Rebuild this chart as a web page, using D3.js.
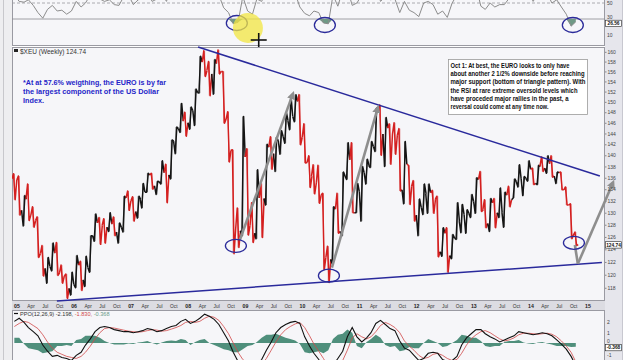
<!DOCTYPE html>
<html><head><meta charset="utf-8">
<script src="https://cdn.jsdelivr.net/npm/d3@7"></script>
<style>body{margin:0;background:#fff;} svg{display:block;font-family:"Liberation Sans",Arial,sans-serif;}</style>
</head><body><svg id="c" width="640" height="360"></svg>
<script>
// ---- DATA (monthly, Dec 2004 .. Oct 2014) ----
const startMonth = "2004-12";
const highs = [136.7,
 136.3,132.9,134.9,131.0,129.3,124.6,122.7,125.0,125.1,121.5,120.1,120.4,
 123.0,122.1,122.9,126.2,129.8,129.2,129.0,130.0,129.3,128.3,132.8,133.7,
 132.7,132.8,135.0,136.8,136.8,135.4,139.0,138.4,142.8,145.2,149.7,148.0,
 149.0,152.5,159.1,160.2,158.0,158.4,160.4,156.0,148.1,141.0,130.8,147.2,
 141.2,131.7,137.4,135.0,142.0,143.4,143.3,144.5,147.9,150.8,151.4,151.4,
 145.8,139.9,138.3,138.2,133.3,124.5,131.0,133.3,137.0,142.3,142.3,135.0,
 138.0,139.3,142.5,148.8,149.4,147.0,145.8,146.0,144.9,142.5,138.2,135.5,
 132.3,134.9,134.9,133.8,132.8,127.5,127.5,126.4,131.7,131.4,130.5,133.1,
 136.0,137.1,132.2,132.4,132.4,134.2,133.5,134.5,135.8,138.3,136.2,139.0,
 137.7,138.2,139.7,139.9,139.9,137.0,137.0,134.4,131.5,126.8];
const lows = [132.2,
 129.6,127.8,128.7,127.6,122.7,119.8,118.7,120.6,119.9,118.7,116.4,116.9,
 118.0,117.6,118.2,120.4,125.3,124.8,125.0,126.9,126.2,125.0,126.8,130.4,
 128.6,129.1,130.8,133.5,134.0,133.1,134.9,131.7,135.8,140.3,144.2,143.5,
 144.8,145.5,151.7,155.0,151.2,151.5,155.5,145.9,138.8,123.3,124.3,126.2,
 126.3,125.1,125.7,125.9,131.3,137.5,137.1,140.2,142.2,144.7,146.2,141.9,
 138.6,134.3,133.2,131.6,120.8,118.8,121.7,126.6,126.2,135.7,130.0,130.0,
 128.6,134.9,137.8,140.7,140.0,138.0,138.4,140.2,133.7,131.5,131.4,128.6,
 126.2,129.7,129.9,129.9,122.8,122.9,120.4,122.5,125.6,126.7,126.6,129.2,
 129.9,130.2,127.5,126.9,127.5,129.2,127.6,131.0,132.5,134.4,132.9,135.4,
 134.8,134.8,137.1,136.8,136.1,135.0,133.9,131.3,125.7,124.6];
const closes = [135.6,
 130.4,132.3,129.6,128.7,123.3,121.0,121.3,123.4,120.3,119.8,117.9,118.5,
 121.5,119.2,121.1,126.2,128.3,127.9,127.6,128.1,126.8,127.6,132.5,132.0,
 130.2,132.3,133.5,136.5,134.6,135.3,136.9,136.5,142.6,144.9,146.3,146.0,
 148.3,151.8,157.9,156.2,155.5,157.6,156.0,146.7,140.9,127.3,127.0,139.7,
 127.9,126.6,132.5,132.4,141.5,140.3,142.6,143.4,146.4,147.2,150.1,143.3,
 138.7,136.3,135.1,133.0,122.7,122.4,130.6,126.9,136.3,139.2,130.0,133.6,
 136.9,138.2,141.6,148.1,143.9,145.0,143.9,143.7,133.9,138.4,134.5,129.6,
 130.9,133.2,133.4,132.3,123.6,126.6,123.0,125.8,128.6,129.7,129.9,131.9,
 135.7,130.5,128.2,131.7,130.0,130.1,133.0,132.2,135.3,135.8,135.9,137.5,
 135.0,138.0,137.7,138.5,136.3,136.9,133.9,131.3,126.3,124.74];
const rsiValues = [60,
 52,51,54,47,38,31,42,47,40,41,36,40,
 52,45,50,60,65,55,52,54,48,47,58,60,
 48,54,56,64,52,55,62,52,70,72,70,60,
 62,66,75,70,60,62,60,44,38,24,26,58,
 40,36,55,52,66,58,62,60,66,64,62,45,
 37,34,40,38,25,24,60,46,66,68,47,50,
 60,58,66,74,52,58,54,55,38,52,41,38,
 33,50,52,48,36,40,32,50,60,56,55,60,
 70,46,42,50,45,48,48,56,64,66,60,66,
 52,62,62,62,50,54,45,36,21,26.56];
const ppoValues = [2.1,
 2.4,2.0,1.5,1.1,0.7,-0.2,-0.8,-1.3,-1.2,-1.4,-1.5,-1.7,
 -1.2,-0.9,-0.2,0.4,1.1,1.5,1.6,1.5,1.3,1.2,1.1,1.1,
 1.0,1.1,1.2,1.4,1.3,1.1,1.2,1.4,1.6,1.7,2.1,2.3,
 1.9,2.1,2.4,2.8,2.6,2.3,1.8,1.0,0.2,-0.9,-1.8,-2.2,
 -2.3,-2.4,-2.2,-1.6,-0.7,0.1,1.0,1.5,1.8,2.0,2.1,1.9,
 0.6,-0.3,-1.0,-1.6,-2.5,-3.0,-2.2,-1.5,-0.8,0.6,1.5,0.6,
 0.1,0.5,1.0,1.9,2.2,1.8,1.4,1.2,0.2,-0.5,-0.7,-1.2,
 -1.7,-1.5,-1.0,-0.9,-1.0,-1.6,-1.8,-1.7,-1.3,-0.2,0.5,0.9,
 1.3,1.3,0.9,0.6,0.4,0.1,0.3,0.5,0.7,1.1,1.0,0.9,
 0.8,0.9,1.0,0.9,0.7,0.3,-0.1,-0.6,-1.3,-2.198];
const signalValues = [1.6,
 1.9,2.1,2.0,1.7,1.4,0.8,0.1,-0.5,-0.9,-1.1,-1.3,-1.4,
 -1.5,-1.3,-0.9,-0.3,0.4,1.0,1.4,1.5,1.45,1.35,1.25,1.15,
 1.1,1.05,1.1,1.2,1.3,1.25,1.15,1.2,1.35,1.5,1.7,2.0,
 2.1,2.0,2.1,2.4,2.6,2.5,2.2,1.6,0.9,0.0,-0.9,-1.6,
 -2.0,-2.2,-2.3,-2.1,-1.5,-0.7,0.1,0.8,1.3,1.6,1.85,2.0,
 1.5,0.7,-0.1,-0.8,-1.5,-2.3,-2.6,-2.3,-1.7,-0.7,0.5,0.9,
 0.6,0.4,0.6,1.1,1.7,2.0,1.8,1.5,1.0,0.2,-0.3,-0.7,
 -1.2,-1.5,-1.4,-1.1,-1.0,-1.2,-1.5,-1.7,-1.6,-1.0,-0.2,0.4,
 0.8,1.1,1.2,1.0,0.7,0.4,0.2,0.3,0.5,0.8,0.95,0.95,
 0.9,0.85,0.9,0.95,0.85,0.6,0.2,-0.3,-0.9,-1.830];
const priceTickLabels = [118,120,122,124,126,128,130,132,134,136,138,140,142,144,146,148,150,152,154,156,158,160];
const rsiTickLabels = [50,30,10];
const ppoTickLabels = [2,1,0,-1];
const yearLabels = ["05","06","07","08","09","10","11","12","13","14","15"];
const quarterLabels = ["Apr","Jul","Oct"];
const title = "$XEU (Weekly) 124.74";
const lastPrice = "124.74", lastRsi = "26.56", lastHist = "-0.368";
const ppoTitle = ["PPO(12,26,9) -2.198,", "-1.830,", "-0.368"];
const noteLeft = ["*At at 57.6% weigthing, the EURO is by far","the largest component of the US Dollar","Index."];
const noteRight = ["Oct 1: At best, the EURO looks to only have","about another 2 1/2% downside before reaching","major support (bottom of triangle pattern). With","the RSI at rare extreme oversold levels which","have proceded major rallies in the past, a","reversal could come at any time now."];
// annotation anchors in data space [date, value]
const upperTrend = [["2008-03-04",161.0],["2015-03-18",136.3]];
const lowerTrend = [["2005-09-13",116.0],["2015-03-31",121.9]];
const arrows = [
  [["2008-11-26",125.5],["2009-10-31",151.5]],
  [["2010-07-08",121.1],["2011-04-27",148.8]],
  [["2014-10-28",121.7],["2015-06-09",135.1]]];
const vLeg = [["2014-10-09",124.7],["2014-10-28",121.7]];
const priceCircles = [["2008-11-01",124.56],["2010-06-19",119.85],["2014-10-03",125.05]];
const rsiCircles = [["2008-11-07",25],["2010-05-24",22.5],["2014-09-26",22.5]];
const highlight = ["2009-01-17",18.75];
const cursorAt = ["2009-03-27",3.75];

// ---- CHART ----
const svg = d3.select('#c');
const L = 12, R = 605, AX = 622;
const pd = d3.timeParse("%Y-%m-%d");
const x = d3.scaleTime().domain([new Date(2005,0,1), new Date(2015,0,1)]).range([17,588]);
const yP = d3.scaleLog().domain([116.0,161.0]).range([301,47]);
const yR = d3.scaleLinear().domain([10,50]).range([35,3]);
const yM = d3.scaleLinear().domain([-1,2]).range([353.3,322.4]);

const months = d3.timeMonth.range(d3.timeParse("%Y-%m")(startMonth), new Date(2014,10,1));
const xs = months.map(m=> x(d3.timeDay.offset(m,14)));
const step = xs[1]-xs[0];

svg.append('rect').attr('width',640).attr('height',360).attr('fill','#ffffff');
svg.append('rect').attr('x',0).attr('y',0).attr('width',L).attr('height',360).attr('fill','#eeeef0');
svg.append('line').attr('x1',3.5).attr('x2',3.5).attr('y1',0).attr('y2',360).attr('stroke','#c8c8cc');
svg.append('rect').attr('x',R).attr('y',0).attr('width',AX-R).attr('height',360).attr('fill','#e6e6ec');
svg.append('line').attr('x1',AX+0.5).attr('x2',AX+0.5).attr('y1',0).attr('y2',360).attr('stroke','#c8c8d0');

const defs = svg.append('defs');
[['clipR',-5,46],['clipP',47,301],['clipM',310,361]].forEach(([id,a,b])=>{
  defs.append('clipPath').attr('id',id).append('rect').attr('x',L).attr('y',a).attr('width',R-L).attr('height',b-a);
});
defs.append('marker').attr('id','ah').attr('viewBox','0 0 10 10').attr('refX',6).attr('refY',5)
  .attr('markerWidth',3.2).attr('markerHeight',3.2).attr('orient','auto')
  .append('path').attr('d','M0,0 L10,5 L0,10 Z').attr('fill','#8e8e8e');

// panels
[[ -5,46],[47,301],[310,362]].forEach(([a,b])=>{
  svg.append('rect').attr('x',L+0.5).attr('y',a+0.5).attr('width',R-L-1).attr('height',b-a-1)
    .attr('fill','#f6f6f9').attr('stroke','#9a9aa2').attr('stroke-width',1);
});
// date strip
svg.append('rect').attr('x',L).attr('y',301).attr('width',R-L).attr('height',9).attr('fill','#dcdce2');

// ---- RSI panel ----
const gR = svg.append('g').attr('clip-path','url(#clipR)');
gR.append('line').attr('x1',L).attr('x2',R).attr('y1',yR(50)).attr('y2',yR(50)).attr('stroke','#9a9aa0').attr('stroke-dasharray','3,2').attr('stroke-width',0.8);
gR.append('line').attr('x1',L).attr('x2',R).attr('y1',yR(30)).attr('y2',yR(30)).attr('stroke','#8a8a90').attr('stroke-width',0.8);
gR.append('path').datum(rsiValues)
  .attr('d', d3.area().x((d,i)=>xs[i]).y0(yR(30)).y1(d=>yR(Math.min(d,30))))
  .attr('fill','#6f9a86');
gR.append('path').datum(rsiValues)
  .attr('d', d3.line().x((d,i)=>xs[i]).y(d=>yR(d)))
  .attr('fill','none').attr('stroke','#8c8c8c').attr('stroke-width',1);
svg.append('text').attr('x',607).attr('y',yR(50)+2).attr('font-size',5).attr('fill','#444').text(rsiTickLabels[0]);
svg.append('text').attr('x',607).attr('y',yR(30)+0.2).attr('font-size',5).attr('fill','#444').text(rsiTickLabels[1]);
svg.append('text').attr('x',607).attr('y',yR(10)+2).attr('font-size',5).attr('fill','#444').text(rsiTickLabels[2]);
// last value box
function valBox(cy, txt){
  svg.append('rect').attr('x',605.5).attr('y',cy-3).attr('width',16).attr('height',6.4).attr('fill','#fff').attr('stroke','#222').attr('stroke-width',0.6);
  svg.append('text').attr('x',613.5).attr('y',cy+1.8).attr('text-anchor','middle').attr('font-size',4.8).attr('font-weight','bold').attr('fill','#111').text(txt);
}
valBox(yR(30)+4.2, lastRsi);
rsiCircles.forEach(([d,v])=>{
  svg.append('ellipse').attr('cx',x(pd(d))).attr('cy',yR(v)).attr('rx',10.5).attr('ry',7.5)
    .attr('fill','none').attr('stroke','#2b2b9a').attr('stroke-width',1.3);
});

// ---- PRICE panel: each month drawn as open -> extremes -> close ----
const gP = svg.append('g').attr('clip-path','url(#clipP)');
closes.forEach((c,i)=>{
  const o = i>0 ? closes[i-1] : lows[i]+(highs[i]-lows[i])*0.8;
  const up = c >= o;
  const col = up ? '#151515' : '#d42020';
  const hw = step/2;
  const pts = [[xs[i]-hw, o],[xs[i]-hw*0.35, up?lows[i]:highs[i]],[xs[i]+hw*0.35, up?highs[i]:lows[i]],[xs[i]+hw, c]];
  gP.append('path').attr('d', d3.line().x(p=>p[0]).y(p=>yP(p[1]))(pts))
    .attr('fill','none').attr('stroke',col).attr('stroke-width',1.5).attr('stroke-linejoin','round');
  gP.append('line').attr('x1',xs[i]).attr('x2',xs[i]).attr('y1',yP(highs[i])).attr('y2',yP(lows[i]))
    .attr('stroke',col).attr('stroke-width',0.8).attr('opacity',0.8);
});
// trend lines
[upperTrend, lowerTrend].forEach(seg=>{
  svg.append('line').attr('x1',x(pd(seg[0][0]))).attr('y1',yP(seg[0][1]))
    .attr('x2',x(pd(seg[1][0]))).attr('y2',yP(seg[1][1]))
    .attr('stroke','#2a2a9c').attr('stroke-width',1.5);
});
// grey arrows
svg.append('line').attr('x1',x(pd(vLeg[0][0]))).attr('y1',yP(vLeg[0][1]))
  .attr('x2',x(pd(vLeg[1][0]))).attr('y2',yP(vLeg[1][1])).attr('stroke','#8e8e8e').attr('stroke-width',2.6);
arrows.forEach(seg=>{
  svg.append('line').attr('x1',x(pd(seg[0][0]))).attr('y1',yP(seg[0][1]))
    .attr('x2',x(pd(seg[1][0]))).attr('y2',yP(seg[1][1]))
    .attr('stroke','#8e8e8e').attr('stroke-width',2.6).attr('marker-end','url(#ah)');
});
priceCircles.forEach(([d,v])=>{
  svg.append('ellipse').attr('cx',x(pd(d))).attr('cy',yP(v)).attr('rx',10.5).attr('ry',6.5)
    .attr('fill','none').attr('stroke','#2b2b9a').attr('stroke-width',1.3);
});
// price axis
const pAxis = svg.append('g').attr('transform',`translate(${R},0)`)
  .call(d3.axisRight(yP).tickValues(priceTickLabels).tickFormat(d3.format('d')).tickSize(1.5));
pAxis.select('.domain').remove();
pAxis.selectAll('text').attr('font-size',5).attr('fill','#444').attr('x',2.5).style('font-family','"Liberation Sans",Arial,sans-serif');
pAxis.selectAll('line').attr('stroke','#888');
valBox(yP(124.74), lastPrice);
// title
svg.append('rect').attr('x',14).attr('y',49).attr('width',4).attr('height',3).attr('fill','#222');
svg.append('text').attr('x',20).attr('y',53.5).attr('font-size',6.5).attr('fill','#333').text(title);
// left note
noteLeft.forEach((t,i)=>{
  const w=[143,136,21][i];
  svg.append('text').attr('x',23).attr('y',84.5+i*9.2).attr('font-size',8).attr('font-weight','bold')
    .attr('fill','#2525c8').attr('textLength',w).attr('lengthAdjust','spacingAndGlyphs').text(t);
});
// right note box
svg.append('rect').attr('x',448.5).attr('y',59.5).attr('width',139).attr('height',55).attr('fill','#ffffff').attr('stroke','#9a9a9a').attr('stroke-width',0.8);
noteRight.forEach((t,i)=>{
  const w=[119,134,135,127,118,98][i];
  svg.append('text').attr('x',450.5).attr('y',67.7+i*8.3).attr('font-size',6.6).attr('font-weight','bold')
    .attr('fill','#111').attr('textLength',w).attr('lengthAdjust','spacingAndGlyphs').text(t);
});

// date axis
const yearTicks = d3.range(2005,2016).map(y=>new Date(y,0,1));
yearTicks.forEach((d,i)=>{
  svg.append('text').attr('x',x(d)).attr('y',307.5).attr('text-anchor','middle').attr('font-size',5.2)
    .attr('font-weight','bold').attr('fill','#222').text(yearLabels[i]);
  if (i<yearTicks.length-1) [3,6,9].forEach((m,j)=>{
    svg.append('text').attr('x',x(new Date(2005+i,m,1))).attr('y',307.5).attr('text-anchor','middle')
      .attr('font-size',4.8).attr('fill','#333').text(quarterLabels[j]);
  });
});

// ---- PPO panel ----
const gM = svg.append('g').attr('clip-path','url(#clipM)');
const hist = ppoValues.map((v,i)=>v-signalValues[i]);
gM.append('path').datum(hist)
  .attr('d', d3.area().x((d,i)=>xs[i]).y0(yM(0)).y1(d=>yM(d)))
  .attr('fill','#4f8f7c');
gM.append('path').datum(signalValues)
  .attr('d', d3.line().x((d,i)=>xs[i]).y(d=>yM(d)))
  .attr('fill','none').attr('stroke','#d04848').attr('stroke-width',0.8);
gM.append('path').datum(ppoValues)
  .attr('d', d3.line().x((d,i)=>xs[i]).y(d=>yM(d)))
  .attr('fill','none').attr('stroke','#111').attr('stroke-width',1.1);
svg.append('text').attr('x',607).attr('y',yM(2)+2).attr('font-size',5).attr('fill','#444').text(ppoTickLabels[0]);
svg.append('text').attr('x',607).attr('y',yM(1)+2).attr('font-size',5).attr('fill','#444').text(ppoTickLabels[1]);
svg.append('text').attr('x',607).attr('y',yM(0)+0.3).attr('font-size',5).attr('fill','#444').text(ppoTickLabels[2]);
svg.append('text').attr('x',607).attr('y',yM(-1)+3.6).attr('font-size',5).attr('fill','#444').text(ppoTickLabels[3]);
valBox(yM(0)+4.4, lastHist);
svg.append('line').attr('x1',14).attr('x2',18).attr('y1',313.5).attr('y2',313.5).attr('stroke','#111').attr('stroke-width',1.2);
const tt = svg.append('text').attr('x',20).attr('y',316).attr('font-size',5.6);
tt.append('tspan').attr('fill','#333').text(ppoTitle[0]+' ');
tt.append('tspan').attr('fill','#d04848').text(ppoTitle[1]+' ');
tt.append('tspan').attr('fill','#6a9a8a').text(ppoTitle[2]);

// yellow highlight + cursor
svg.append('circle').attr('cx',x(pd(highlight[0]))).attr('cy',yR(highlight[1])).attr('r',15)
  .attr('fill','#f2e640').attr('opacity',0.75);
const cx = x(pd(cursorAt[0])), cy = yR(cursorAt[1]);
svg.append('line').attr('x1',cx-8).attr('x2',cx+8).attr('y1',cy).attr('y2',cy).attr('stroke','#111').attr('stroke-width',1.6);
svg.append('line').attr('x1',cx).attr('x2',cx).attr('y1',cy-7).attr('y2',cy+7).attr('stroke','#111').attr('stroke-width',1.6);
</script></body></html>
